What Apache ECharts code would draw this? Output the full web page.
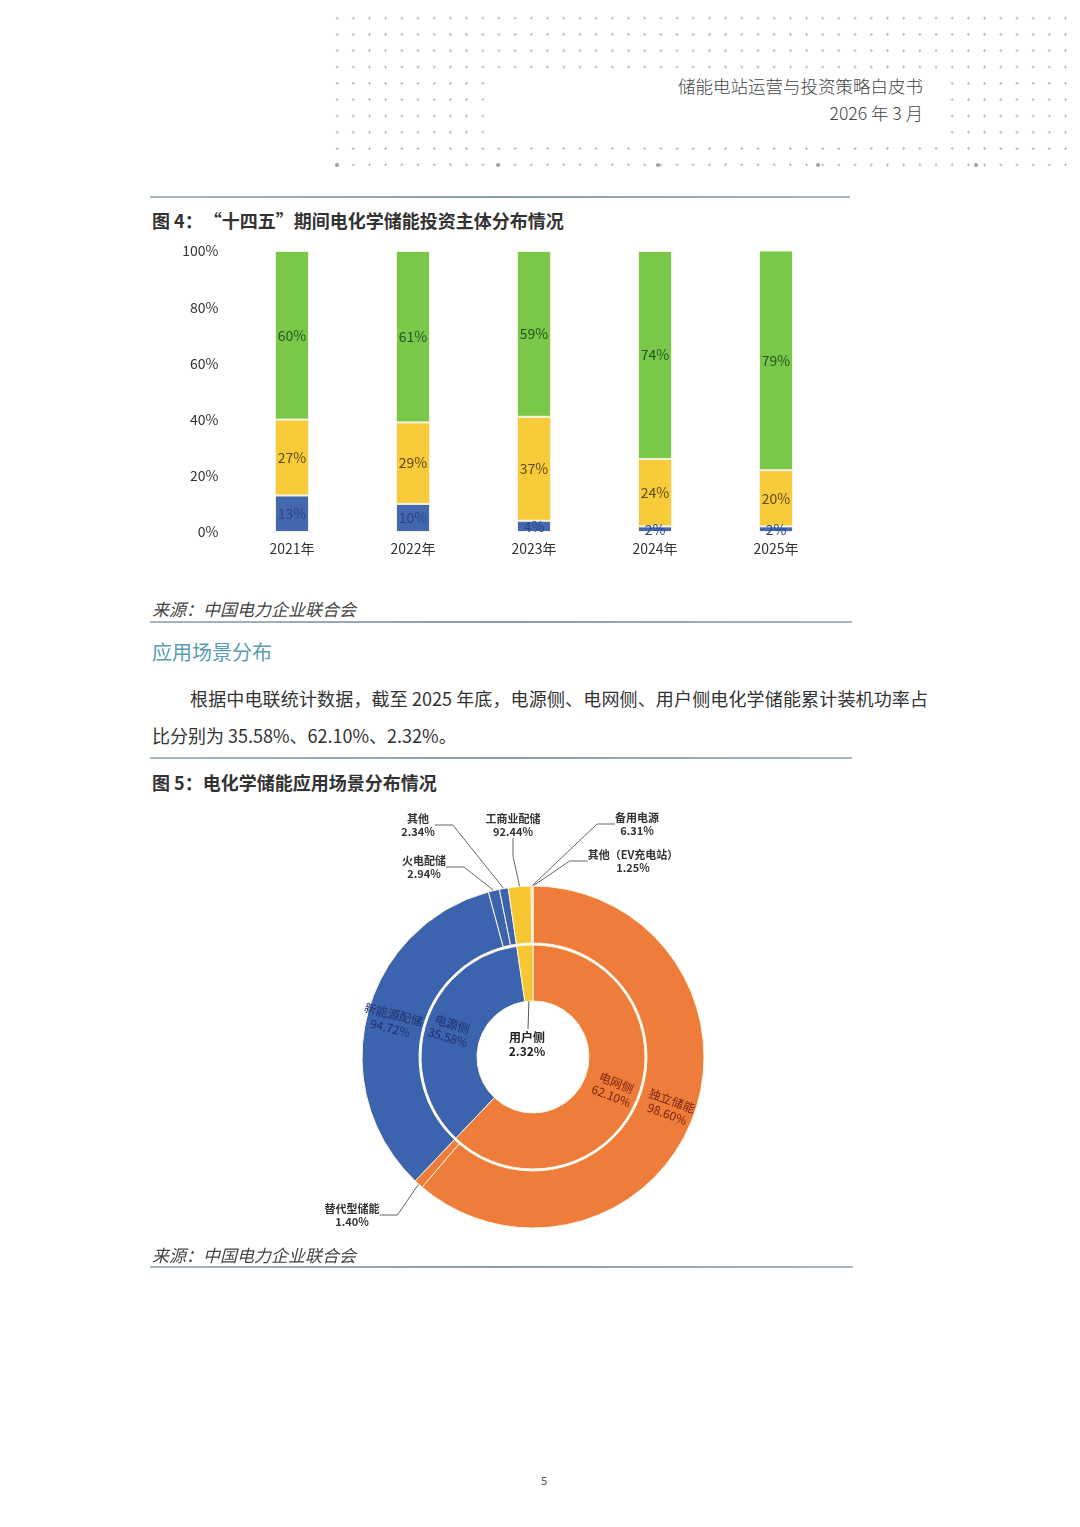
<!DOCTYPE html>
<html>
<head>
<meta charset="utf-8">
<script src="https://cdn.jsdelivr.net/npm/echarts@6/dist/echarts.min.js"></script>
<style>
html,body{margin:0;padding:0;background:#fff;}
body{width:1080px;height:1527px;position:relative;overflow:hidden;font-family:"Noto Sans CJK SC","Noto Sans",sans-serif;color:#333;}
.abs{position:absolute;white-space:nowrap;}
.dots{left:329px;top:10px;width:745px;height:163px;background-image:radial-gradient(circle,#b5b5b5 0.9px,rgba(255,255,255,0) 1.4px);background-size:16.2px 16.3px;}
.blank{left:490px;top:75px;width:452px;height:66px;background:#fff;}
.bigdot{width:4px;height:4px;border-radius:2px;background:#a0a0a0;top:163px;}
.hline{height:1.5px;background:linear-gradient(90deg,#a9b6bd,#8c9ca5 50%,#a9b6bd);}
.hdr{right:157px;font-size:17.5px;line-height:20px;color:#444;font-weight:300;}
.ftitle{left:152px;font-size:18px;line-height:24px;font-weight:bold;color:#333;}
.src{left:152px;font-size:17px;line-height:24px;font-style:italic;color:#444;}
</style>
</head>
<body>
<div class="abs dots"></div>
<div class="abs blank"></div>
<div class="abs bigdot" style="left:335px"></div>
<div class="abs bigdot" style="left:496px"></div>
<div class="abs bigdot" style="left:656px"></div>
<div class="abs bigdot" style="left:816px"></div>
<div class="abs bigdot" style="left:974px"></div>

<div class="abs hdr" style="top:76px">储能电站运营与投资策略白皮书</div>
<div class="abs hdr" style="top:103px">2026 年 3 月</div>

<div class="abs hline" style="left:150px;top:196px;width:700px"></div>
<div class="abs ftitle" style="top:208px">图 4：<span style="margin-left:10px">“十四五”期间电化学储能投资主体分布情况</span></div>

<div id="bar" class="abs" style="left:150px;top:235px;width:700px;height:340px"></div>

<div class="abs src" style="top:597px">来源：中国电力企业联合会</div>
<div class="abs hline" style="left:150px;top:621px;width:702px"></div>

<div class="abs" style="left:152px;top:638px;font-size:20px;line-height:28px;color:#5a9db0">应用场景分布</div>

<div class="abs" style="left:190px;top:686px;width:738px;font-size:18px;line-height:24px;color:#333;text-align:justify;text-align-last:justify;white-space:normal">根据中电联统计数据，截至 2025 年底，电源侧、电网侧、用户侧电化学储能累计装机功率占</div>
<div class="abs" style="left:152px;top:723px;font-size:18px;line-height:24px;color:#333">比分别为 35.58%、62.10%、2.32%。</div>

<div class="abs hline" style="left:150px;top:757px;width:702px"></div>
<div class="abs ftitle" style="top:770px">图 5：电化学储能应用场景分布情况</div>

<div id="pie" class="abs" style="left:150px;top:795px;width:700px;height:470px"></div>

<div class="abs src" style="top:1243px">来源：中国电力企业联合会</div>
<div class="abs hline" style="left:150px;top:1266px;width:703px"></div>

<div class="abs" style="left:541px;top:1472px;font-size:11px;line-height:16px;color:#555">5</div>

<script>
// ---- Figure 4 data ----
const years = ['2021年', '2022年', '2023年', '2024年', '2025年'];
const blueShare = [13, 10, 4, 2, 2];
const yellowShare = [27, 29, 37, 24, 20];
const greenShare = [60, 61, 59, 74, 79];
const yTicks = [0, 20, 40, 60, 80, 100];

// ---- Figure 5 data ----
const innerNames = ['电网侧', '电源侧', '用户侧'];
const innerShares = [62.10, 35.58, 2.32];
const gridSubNames = ['独立储能', '替代型储能'];
const gridSubShares = [98.60, 1.40];
const sourceSubNames = ['新能源配储', '火电配储', '其他'];
const sourceSubShares = [94.72, 2.94, 2.34];
const userSubNames = ['工商业配储', '备用电源', '其他（EV充电站）'];
const userSubShares = [92.44, 6.31, 1.25];

// ---- styles ----
const BAR_BLUE = '#4468b0', BAR_YELLOW = '#f8cb3a', BAR_GREEN = '#79c84a';
const PIE_BLUE = '#3c63ae', PIE_ORANGE = '#ee7c3a', PIE_YELLOW = '#f6c733';
const FONT = '"Noto Sans CJK SC","Noto Sans",sans-serif';

const bar = echarts.init(document.getElementById('bar'));
function barSeries(name, vals, color, txt) {
  return {
    name: name, type: 'bar', stack: 'total', barWidth: 34, data: vals,
    itemStyle: {color: color, borderColor: '#f4f2de', borderWidth: 1},
    label: {show: true, position: 'inside', formatter: '{c}%', fontSize: 14, color: txt, fontFamily: FONT},
    emphasis: {disabled: true}
  };
}
bar.setOption({
  animation: false,
  grid: {left: 81.5, right: 13.5, top: 16, bottom: 43},
  xAxis: {
    type: 'category', data: years,
    axisLine: {show: false}, axisTick: {show: false},
    axisLabel: {fontSize: 14, color: '#333', margin: 10, fontFamily: FONT}
  },
  yAxis: {
    type: 'value', min: yTicks[0], max: yTicks[yTicks.length - 1], interval: yTicks[1] - yTicks[0],
    axisLine: {show: false}, axisTick: {show: false}, splitLine: {show: false},
    axisLabel: {formatter: '{value}%', fontSize: 14, color: '#333', margin: 13, fontFamily: FONT}
  },
  series: [
    barSeries('s1', blueShare, BAR_BLUE, '#2c4582'),
    barSeries('s2', yellowShare, BAR_YELLOW, '#5e4a14'),
    barSeries('s3', greenShare, BAR_GREEN, '#275520')
  ]
});

// ---- donut ----
const pie = echarts.init(document.getElementById('pie'));
const CENTER = [383, 262];
const INNER_R = [56, 112], OUTER_R = [114, 171];
const groups = [
  {names: gridSubNames, shares: gridSubShares, parent: innerShares[0], color: PIE_ORANGE, txt: '#7a2610'},
  {names: sourceSubNames, shares: sourceSubShares, parent: innerShares[1], color: PIE_BLUE, txt: '#1d3270'},
  {names: userSubNames, shares: userSubShares, parent: innerShares[2], color: PIE_YELLOW, txt: '#333'}
];
const innerColors = [PIE_ORANGE, PIE_BLUE, PIE_YELLOW];
const innerTxt = ['#7a2610', '#1d3270', '#222'];

// outside label anchor spots (px, in chart container)
const outerSpots = {
  '替代型储能': [202, 420],
  '火电配储': [274, 72],
  '其他': [268, 30],
  '工商业配储': [363, 30],
  '备用电源': [487, 29],
  '其他（EV充电站）': [483, 66]
};
const innerSpots = {'用户侧': [377, 249]};

const outsideLabel = {
  position: 'outside', rotate: 0, fontSize: 11, fontWeight: 'bold', color: '#333', lineHeight: 13,
  align: 'center'
};

const innerData = innerNames.map(function (n, i) {
  const d = {name: n, value: innerShares[i], share: innerShares[i], itemStyle: {color: innerColors[i]},
    label: {color: innerTxt[i]}};
  if (innerSpots[n]) {
    d.label = Object.assign({}, outsideLabel, {fontSize: 12, color: '#222', lineHeight: 14});
  }
  return d;
});

const outerData = [];
groups.forEach(function (g) {
  g.names.forEach(function (n, j) {
    const d = {name: n, value: g.parent * g.shares[j] / 100, share: g.shares[j],
      itemStyle: {color: g.color}, label: {color: g.txt}};
    if (outerSpots[n]) {
      d.label = Object.assign({}, outsideLabel);
      d.labelLine = {show: true, length: 10, length2: 18, lineStyle: {color: '#666', width: 1}};
    }
    outerData.push(d);
  });
});

function fmt(p) { return p.name + '\n' + p.data.share.toFixed(2) + '%'; }

function layoutBy(spots, names) {
  return function (p) {
    const n = names[p.dataIndex];
    const s = spots[n];
    if (!s) return {};
    return {x: s[0], y: s[1], align: 'center', verticalAlign: 'middle'};
  };
}
const outerNameList = outerData.map(function (d) { return d.name; });

// leader line for the centre label: from the user-side slice's inner edge to the label top
const guides = [];
innerNames.forEach(function (n, idx) {
  const s = innerSpots[n];
  if (!s) return;
  const total = innerShares.reduce(function (a, b) { return a + b; }, 0);
  let before = 0;
  for (let i = 0; i < idx; i++) before += innerShares[i];
  const theta = (before + innerShares[idx] / 2) / total * 2 * Math.PI;
  const ax = CENTER[0] + INNER_R[0] * Math.sin(theta);
  const ay = CENTER[1] - INNER_R[0] * Math.cos(theta);
  guides.push({
    type: 'line', z: 100,
    shape: {x1: ax, y1: ay, x2: s[0] + 1, y2: s[1] - 15},
    style: {stroke: '#555', lineWidth: 1}
  });
});

pie.setOption({
  animation: false,
  graphic: guides,
  series: [
    {
      type: 'pie', center: CENTER, radius: INNER_R, startAngle: 90, clockwise: true,
      avoidLabelOverlap: false, data: innerData,
      itemStyle: {borderColor: '#fbf5df', borderWidth: 1},
      label: {show: true, position: 'inside', rotate: 'radial', formatter: fmt, fontSize: 12, lineHeight: 14, fontFamily: FONT},
      labelLine: {show: false},
      labelLayout: layoutBy(innerSpots, innerNames),
      emphasis: {disabled: true}
    },
    {
      type: 'pie', center: CENTER, radius: OUTER_R, startAngle: 90, clockwise: true,
      avoidLabelOverlap: false, data: outerData,
      itemStyle: {borderColor: '#fbf5df', borderWidth: 1},
      label: {show: true, position: 'inside', rotate: 'radial', formatter: fmt, fontSize: 12, lineHeight: 14, fontFamily: FONT},
      labelLine: {show: false},
      labelLayout: layoutBy(outerSpots, outerNameList),
      emphasis: {disabled: true}
    }
  ]
});
</script>
</body>
</html>
